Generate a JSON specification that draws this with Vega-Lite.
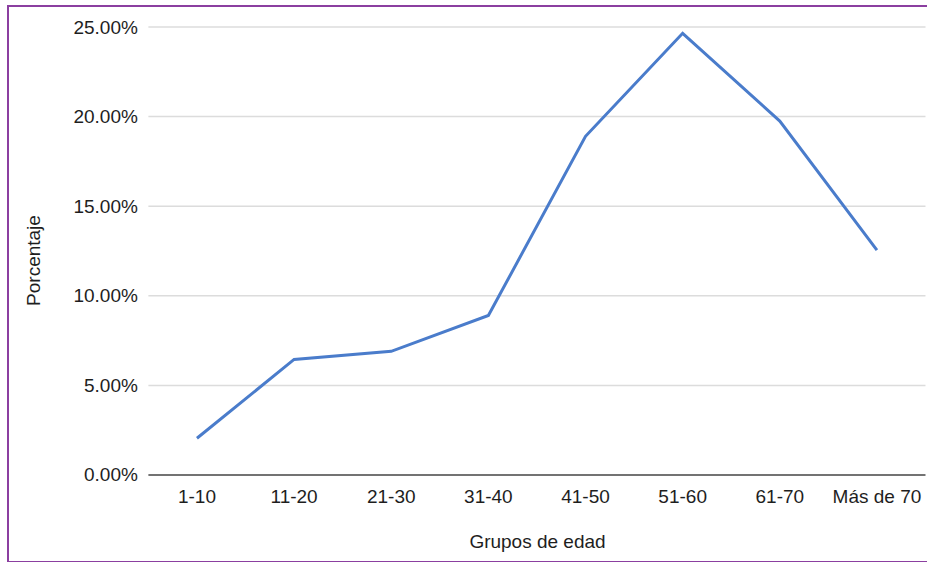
{
  "$schema": "https://vega.github.io/schema/vega-lite/v6.json",
  "width": 960,
  "height": 556,
  "autosize": {"type": "none"},
  "padding": {"left": 8, "top": 6, "right": 0, "bottom": 0},
  "background": "white",
  "config": {
    "font": "Liberation Sans",
    "view": {"stroke": "#8b3fa0", "strokeWidth": 2},
    "axisX": {
      "titleFontSize": 19,
      "titleFontWeight": "normal",
      "titleColor": "#1e1e1e",
      "titlePadding": 26,
      "titleX": 529,
      "titleAnchor": "middle",
      "offset": -87,
      "domain": false,
      "ticks": false,
      "tickSize": 0,
      "grid": false,
      "labelAngle": 0,
      "labelFontSize": 19,
      "labelColor": "#1e1e1e",
      "labelPadding": 12
    },
    "axisY": {
      "titleFontSize": 19,
      "titleFontWeight": "normal",
      "titleColor": "#1e1e1e",
      "titlePadding": 29,
      "titleY": 254,
      "offset": -140.4,
      "domain": false,
      "ticks": false,
      "tickSize": 0,
      "grid": false,
      "labelFontSize": 19,
      "labelColor": "#1e1e1e",
      "labelPadding": 11
    }
  },
  "datasets": {
    "grupos": [
      {"grupo": "1-10", "porcentaje": 0.0205},
      {"grupo": "11-20", "porcentaje": 0.0645},
      {"grupo": "21-30", "porcentaje": 0.069},
      {"grupo": "31-40", "porcentaje": 0.089},
      {"grupo": "41-50", "porcentaje": 0.189},
      {"grupo": "51-60", "porcentaje": 0.2465},
      {"grupo": "61-70", "porcentaje": 0.1975},
      {"grupo": "Más de 70", "porcentaje": 0.1255}
    ],
    "marcas": [
      {"marca": 0.05}, {"marca": 0.10}, {"marca": 0.15}, {"marca": 0.20}, {"marca": 0.25}
    ],
    "base": [
      {"marca": 0}
    ]
  },
  "layer": [
    {
      "data": {"name": "marcas"},
      "mark": {"type": "rule", "color": "#dcdcdc", "strokeWidth": 1.5},
      "encoding": {
        "y": {
          "field": "marca", "type": "quantitative",
          "scale": {"domain": [-0.04855, 0.26172], "nice": false, "zero": false},
          "axis": {"title": "Porcentaje", "values": [0, 0.05, 0.10, 0.15, 0.20, 0.25], "format": ".2%"}
        },
        "x": {
          "datum": "1-10", "type": "nominal", "bandPosition": 0,
          "scale": {"type": "band", "domain": ["1-10", "11-20", "21-30", "31-40", "41-50", "51-60", "61-70", "Más de 70"], "paddingInner": 0, "paddingOuter": 0.9414, "align": 0.7676},
          "axis": {"title": "Grupos de edad"}
        },
        "x2": {"datum": "Más de 70", "bandPosition": 1}
      }
    },
    {
      "data": {"name": "base"},
      "mark": {"type": "rule", "color": "#444444", "strokeWidth": 1.6},
      "encoding": {
        "y": {
          "field": "marca", "type": "quantitative",
          "scale": {"domain": [-0.04855, 0.26172], "nice": false, "zero": false},
          "axis": {"title": "Porcentaje", "values": [0, 0.05, 0.10, 0.15, 0.20, 0.25], "format": ".2%"}
        },
        "x": {
          "datum": "1-10", "type": "nominal", "bandPosition": 0,
          "scale": {"type": "band", "domain": ["1-10", "11-20", "21-30", "31-40", "41-50", "51-60", "61-70", "Más de 70"], "paddingInner": 0, "paddingOuter": 0.9414, "align": 0.7676},
          "axis": {"title": "Grupos de edad"}
        },
        "x2": {"datum": "Más de 70", "bandPosition": 1}
      }
    },
    {
      "data": {"name": "grupos"},
      "mark": {"type": "line", "color": "#4a7ccb", "strokeWidth": 3, "strokeJoin": "miter"},
      "encoding": {
        "x": {
          "field": "grupo", "type": "nominal", "sort": null,
          "scale": {"type": "band", "domain": ["1-10", "11-20", "21-30", "31-40", "41-50", "51-60", "61-70", "Más de 70"], "paddingInner": 0, "paddingOuter": 0.9414, "align": 0.7676},
          "axis": {"title": "Grupos de edad"}
        },
        "y": {
          "field": "porcentaje", "type": "quantitative",
          "scale": {"domain": [-0.04855, 0.26172], "nice": false, "zero": false},
          "axis": {"title": "Porcentaje", "values": [0, 0.05, 0.10, 0.15, 0.20, 0.25], "format": ".2%"}
        }
      }
    }
  ]
}
